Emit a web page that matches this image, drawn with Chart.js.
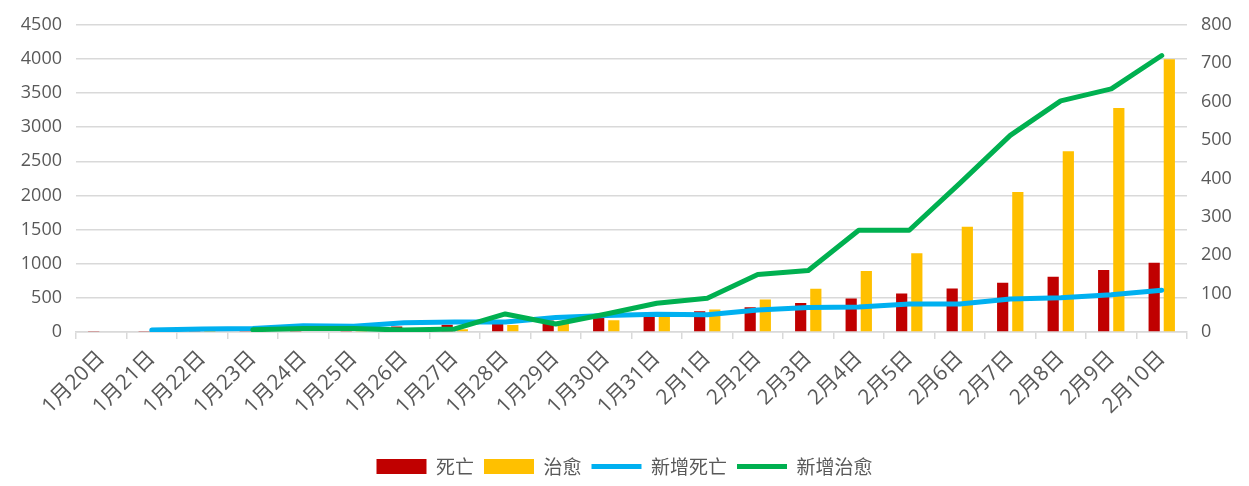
<!DOCTYPE html>
<html>
<head>
<meta charset="utf-8">
<script src="https://cdn.jsdelivr.net/npm/chart.js@4"></script>
<style>
  html, body { margin: 0; padding: 0; background: #fff; }
  #wrap { width: 1249px; height: 486px; }
</style>
</head>
<body>
<div id="wrap"><canvas id="chart" width="1249" height="486"></canvas></div>
<script>
// -------------------------------
// 数据
// -------------------------------
const dates = ['1月20日', '1月21日', '1月22日', '1月23日', '1月24日', '1月25日', '1月26日', '1月27日',
  '1月28日', '1月29日', '1月30日', '1月31日', '2月1日', '2月2日', '2月3日', '2月4日', '2月5日',
  '2月6日', '2月7日', '2月8日', '2月9日', '2月10日'];

// 累计（左轴）
const deaths = [6, 9, 17, 25, 41, 56, 80, 106, 132, 170, 213, 259, 304, 361, 425, 490, 563, 636, 722, 811, 908, 1016];
const cured = [0, 1, 3, 5, 10, 15, 20, 40, 103, 124, 171, 243, 328, 475, 632, 892, 1153, 1540, 2050, 2649, 3281, 3996];

// 新增（右轴）
const newDeaths = [null, 5, 8, 9, 16, 15, 24, 26, 26, 38, 43, 46, 45, 57, 64, 65, 73, 73, 86, 89, 97, 109];
const newCured = [null, null, null, 6, 9, 9, 5, 8, 47, 21, 47, 75, 88, 150, 160, 265, 265, 387, 512, 602, 633, 720];

const leftTicks = [0, 4500, 500];
const rightTicks = [0, 800, 100];

const tickFont = { family: '"Open Sans", "Noto Sans CJK SC", sans-serif', size: 18 };
const xFont = { family: '"Open Sans", "Noto Sans CJK SC", sans-serif', size: 21 };
const gridColor = '#d9d9d9';
const textColor = '#595959';

const ctx = document.getElementById('chart').getContext('2d');
new Chart(ctx, {
  data: {
    labels: dates,
    datasets: [
      {
        type: 'bar', label: '死亡', data: deaths, yAxisID: 'y',
        backgroundColor: '#C00000', order: 3, pointStyle: 'rect',
        categoryPercentage: 0.6, barPercentage: 0.74
      },
      {
        type: 'bar', label: '治愈', data: cured, yAxisID: 'y',
        backgroundColor: '#FFC000', order: 4, pointStyle: 'rect',
        categoryPercentage: 0.6, barPercentage: 0.74
      },
      {
        type: 'line', label: '新增死亡', data: newDeaths, yAxisID: 'y2',
        borderColor: '#00B0F0', backgroundColor: '#00B0F0', borderWidth: 5,
        pointRadius: 0, tension: 0, order: 2, pointStyle: 'line',
        borderJoinStyle: 'round', borderCapStyle: 'round'
      },
      {
        type: 'line', label: '新增治愈', data: newCured, yAxisID: 'y2',
        borderColor: '#00B050', backgroundColor: '#00B050', borderWidth: 5,
        pointRadius: 0, tension: 0, order: 1, pointStyle: 'line',
        borderJoinStyle: 'round', borderCapStyle: 'round'
      }
    ]
  },
  options: {
    responsive: false,
    animation: false,
    layout: { padding: { top: 5, left: 0, right: 0, bottom: 0 } },
    scales: {
      x: {
        offset: true,
        grid: { offset: true, drawOnChartArea: false, drawTicks: true, tickLength: 7, color: gridColor, lineWidth: 1.5 },
        border: { color: gridColor, width: 1.5 },
        ticks: { font: xFont, color: textColor, maxRotation: 45, minRotation: 45, autoSkip: false, padding: 7 },
        afterFit: scale => { scale.height = 115; }
      },
      y: {
        position: 'left',
        min: leftTicks[0], max: leftTicks[1],
        ticks: { stepSize: leftTicks[2], font: tickFont, color: textColor, padding: 14, callback: v => String(v) },
        grid: { color: gridColor, lineWidth: 1.5, drawTicks: false },
        border: { display: false },
        afterFit: scale => { scale.width = 76; }
      },
      y2: {
        position: 'right',
        min: rightTicks[0], max: rightTicks[1],
        ticks: { stepSize: rightTicks[2], font: tickFont, color: textColor, padding: 14, callback: v => String(v) },
        grid: { drawOnChartArea: false, drawTicks: false },
        border: { display: false },
        afterFit: scale => { scale.width = 62; }
      }
    },
    plugins: {
      legend: {
        position: 'bottom',
        labels: {
          usePointStyle: true,
          pointStyleWidth: 50,
          boxHeight: 15,
          padding: 10,
          color: textColor,
          font: { family: '"Noto Sans CJK SC", sans-serif', size: 19 },
          sort: (a, b) => a.datasetIndex - b.datasetIndex
        }
      },
      tooltip: { enabled: false }
    }
  }
});
</script>
</body>
</html>
